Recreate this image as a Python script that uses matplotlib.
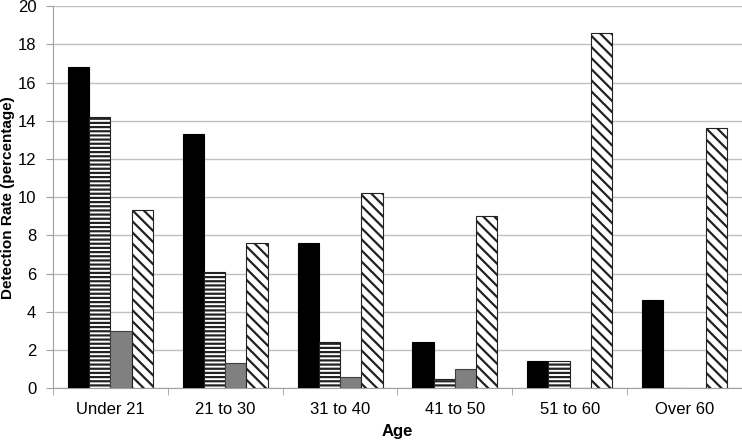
import numpy as np
import matplotlib
matplotlib.use("Agg")
import matplotlib.pyplot as plt

plt.rcParams['font.family'] = ['Liberation Sans', 'DejaVu Sans']
plt.rcParams['hatch.linewidth'] = 1.6

ages = ["Under 21", "21 to 30", "31 to 40", "41 to 50", "51 to 60", "Over 60"]
series_a = [16.8, 13.3, 7.6, 2.4, 1.4, 4.6]
series_b = [14.2, 6.1, 2.4, 0.5, 1.4, 0.0]
series_c = [3.0, 1.3, 0.6, 1.0, 0.0, 0.0]
series_d = [9.3, 7.6, 10.2, 9.0, 18.6, 13.6]

fig = plt.figure(figsize=(7.42, 4.41), dpi=100)
ax = fig.add_axes([0.0714, 0.12, 0.9286, 0.866])

x = np.arange(len(ages))
w = 0.185
styles = [
    (series_a, "black", "black", None),
    (series_b, "white", "#222222", "----"),
    (series_c, "#808080", "#404040", None),
    (series_d, "white", "#222222", "\\\\\\"),
]
for i, (vals, fc, ec, hatch) in enumerate(styles):
    pos = x + (i - 1.5) * w
    ax.bar(pos, vals, width=w, color=fc, edgecolor=ec, hatch=hatch,
           linewidth=0.8, zorder=3)

ax.set_xlim(-0.5, len(ages) - 0.5)
ax.set_ylim(0, 20)
ax.set_yticks(np.arange(0, 21, 2))
ax.set_xticks(x)
ax.set_xticklabels(ages, fontsize=12)
ax.set_xticks(np.arange(-0.5, len(ages), 1), minor=True)
ax.tick_params(axis='x', which='major', length=0, pad=10)
ax.tick_params(axis='x', which='minor', length=5, color="#a0a0a0")
ax.tick_params(axis='y', labelsize=12, length=5, color="#a0a0a0", pad=7)
ax.grid(axis='y', color="#c0c0c0", linewidth=1, zorder=0)

for s in ['top', 'right']:
    ax.spines[s].set_visible(False)
for s in ['left', 'bottom']:
    ax.spines[s].set_color("#a0a0a0")

ax.set_xlabel("Age", fontsize=12, fontweight='bold')
ax.set_ylabel("Detection Rate (percentage)", fontsize=11, fontweight='bold')
ax.xaxis.set_label_coords(0.5, -0.094)
ax.yaxis.set_label_coords(-0.055, 0.5)

fig.savefig("out.png", dpi=100)
